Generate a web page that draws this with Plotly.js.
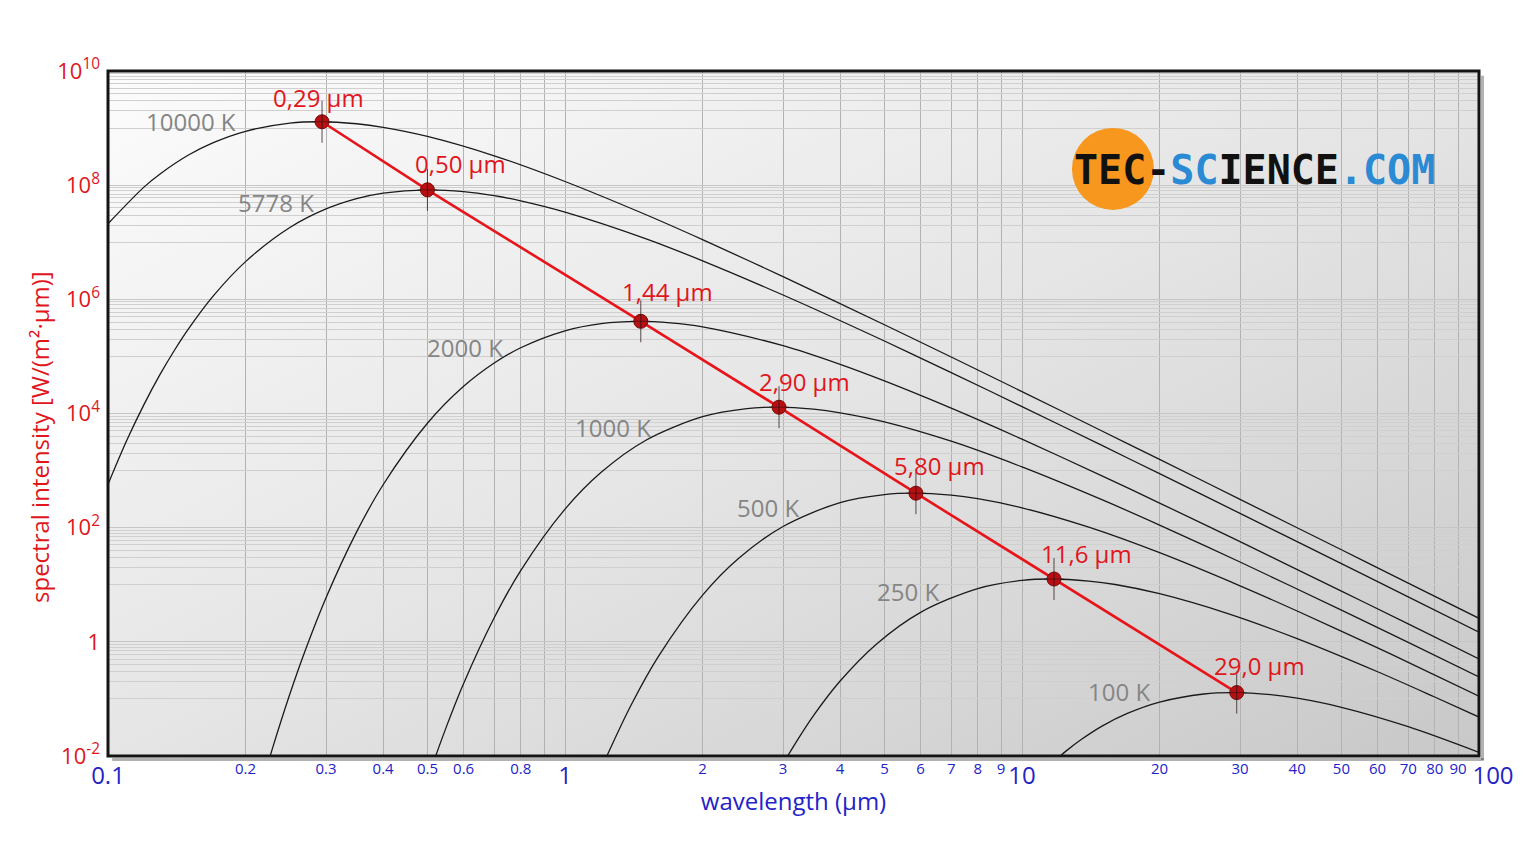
<!DOCTYPE html>
<html>
<head>
<meta charset="utf-8">
<script src="https://cdn.plot.ly/plotly-3.0.1.min.js"></script>
<style>html,body{margin:0;padding:0;background:#fff;}#chart{width:1536px;height:864px;}</style>
</head>
<body>
<div id="chart"></div>
<script>
// ---------------- data ----------------
const temps = ['10000 K', '5778 K', '2000 K', '1000 K', '500 K', '250 K', '100 K'];

const wl_10000 = [0.1,0.12,0.13,0.15,0.17,0.2,0.25,0.29,0.35,0.4,0.5,0.7,1,1.5,2,3,5,7,10,15,20,30,50,70,100];
const I_10000  = [2.11e7,9.33e7,1.57e8,3.37e8,5.56e8,8.79e8,1.22e9,1.29e9,1.19e9,1.03e9,7.14e8,3.27e8,1.16e8,3.06e7,1.11e7,2.50e6,3.59e5,9.76e4,2.42e4,4.89e3,1.57e3,313,41.0,10.7,2.58];

const wl_5778 = [0.1,0.11,0.12,0.13,0.14,0.15,0.17,0.2,0.25,0.3,0.35,0.4,0.5,0.6,0.7,0.8,1,1.5,2,3,5,7,10,15,20,30,50,70,100];
const I_5778  = [573,3.42e3,1.46e4,4.84e4,1.31e5,3.04e5,1.15e6,4.58e6,1.81e7,3.83e7,5.80e7,7.25e7,8.29e7,7.71e7,6.53e7,5.32e7,3.38e7,1.16e7,4.73e6,1.19e6,1.86e5,5.21e4,1.32e4,2.73e3,882,178,23.4,6.15,1.48];

const wl_2000 = [0.225,0.23,0.25,0.27,0.3,0.35,0.4,0.5,0.6,0.7,0.8,1,1.2,1.44,1.7,2,3,4,5,7,10,15,20,30,50,70,100];
const I_2000  = [8.43e-3,1.52e-2,0.122,0.700,5.94,84.4,565,6.75e3,2.99e4,7.66e4,1.42e5,2.81e5,3.76e5,4.12e5,3.88e5,3.30e5,1.54e5,7.25e4,3.72e4,1.24e4,3.55e3,801,270,56.8,7.74,2.06,0.502];

const wl_1000 = [0.5,0.52,0.55,0.6,0.7,0.8,1,1.2,1.5,2,2.5,2.9,3.5,4,5,7,10,15,20,30,50,70,100];
const I_1000  = [3.81e-3,9.47e-3,3.24e-2,0.186,2.64,17.7,211,933,3.37e3,8.79e3,1.22e4,1.29e4,1.19e4,1.03e4,7.14e3,3.27e3,1.16e3,306,111,25.0,3.59,0.976,0.242];

const wl_500 = [1.22,1.24,1.4,1.6,2,2.4,3,4,5,5.8,7,8,10,14,20,30,40,60,70,100];
const I_500  = [7.91e-3,1.07e-2,8.24e-2,0.552,6.60,29.2,105,275,380,402,371,322,223,102,36.4,9.57,3.47,0.782,0.438,0.112];

const wl_250 = [3.04,3.08,3.2,3.5,4,4.8,6,8,10,11.6,14,16,20,28,40,60,80,100];
const I_250  = [8.65e-3,1.04e-2,1.72e-2,5.15e-2,0.206,0.911,3.29,8.58,11.9,12.6,11.6,10.1,6.97,3.19,1.14,0.299,0.108,0.0481];

const wl_100 = [12,12.5,13.5,15,17,20,25,29,35,40,50,70,100];
const I_100  = [9.33e-3,1.23e-2,1.96e-2,0.0337,0.0556,0.0879,0.122,0.129,0.119,0.103,0.0714,0.0327,0.0116];

const peak_wl = [0.294, 0.50, 1.465, 2.94, 5.86, 11.75, 29.5];
const peak_I  = [1.29e9, 8.29e7, 4.12e5, 1.29e4, 402, 12.6, 0.129];
const peak_labels = ['0,29 µm', '0,50 µm', '1,44 µm', '2,90 µm', '5,80 µm', '11,6 µm', '29,0 µm'];

// axis ticks / grid
const x_grid_vals = [0.1,0.2,0.3,0.4,0.5,0.6,0.7,0.8,0.9,1,2,3,4,5,6,7,8,9,10,20,30,40,50,60,70,80,90,100];
const x_minor_vals = [0.2,0.3,0.4,0.5,0.6,0.8,2,3,4,5,6,7,8,9,20,30,40,50,60,70,80,90];
const x_minor_text = ['0.2','0.3','0.4','0.5','0.6','0.8','2','3','4','5','6','7','8','9','20','30','40','50','60','70','80','90'];
const x_major_vals = [0.1, 1, 10];
const x_major_text = ['0.1', '1', '10'];
const x_end_vals = [100];
const x_end_text = ['100'];
const y_major_vals = [1e-2, 1, 1e2, 1e4, 1e6, 1e8, 1e10];
const y_major_text = ['10<sup>-2</sup>', '1', '10<sup>2</sup>', '10<sup>4</sup>', '10<sup>6</sup>', '10<sup>8</sup>', '10<sup>10</sup>'];
const y_minor_vals = [1e-1,2e-1,3e-1,4e-1,5e-1,6e-1,7e-1,8e-1,9e-1,
                      1e1,2e1,3e1,4e1,5e1,6e1,7e1,8e1,9e1,
                      1e3,2e3,3e3,4e3,5e3,6e3,7e3,8e3,9e3,
                      1e5,2e5,3e5,4e5,5e5,6e5,7e5,8e5,9e5,
                      1e7,2e7,3e7,4e7,5e7,6e7,7e7,8e7,9e7,
                      1e9,2e9,3e9,4e9,5e9,6e9,7e9,8e9,9e9];

// ---------------- styling ----------------
const RED = '#e0161c';
const BLUE = '#2323c8';
const GRAY_TXT = '#858585';
const FONT = '"Open Sans", "Noto Sans", sans-serif';

const curves = [
  [wl_10000, I_10000], [wl_5778, I_5778], [wl_2000, I_2000], [wl_1000, I_1000],
  [wl_500, I_500], [wl_250, I_250], [wl_100, I_100]
];

const traces = curves.map(c => ({
  x: c[0], y: c[1], type: 'scatter', mode: 'lines',
  line: {color: '#1a1a1a', width: 1.3, shape: 'spline', smoothing: 0.9},
  hoverinfo: 'skip', cliponaxis: true
}));

// Wien line
traces.push({x: peak_wl, y: peak_I, type: 'scatter', mode: 'lines',
  line: {color: '#e8141a', width: 2.6}, hoverinfo: 'skip'});
// marker dots
traces.push({x: peak_wl, y: peak_I, type: 'scatter', mode: 'markers',
  marker: {symbol: 'circle', size: 14, color: '#b80f12', line: {color: '#7a0a0a', width: 1}}, hoverinfo: 'skip'});
// crosshair
traces.push({x: peak_wl, y: peak_I, type: 'scatter', mode: 'markers',
  marker: {symbol: 'line-ns', size: 30, line: {color: 'rgba(40,20,20,0.75)', width: 1}}, hoverinfo: 'skip'});
traces.push({x: peak_wl, y: peak_I, type: 'scatter', mode: 'markers',
  marker: {symbol: 'line-ew', size: 14, line: {color: 'rgba(40,20,20,0.6)', width: 1}}, hoverinfo: 'skip'});
// invisible anchors so the overlay axes exist
['x2', 'x3', 'x4'].forEach(ax => traces.push({x: [1], y: [1], xaxis: ax, yaxis: 'y', mode: 'markers', marker: {opacity: 0}, hoverinfo: 'skip'}));
traces.push({x: [1], y: [1], xaxis: 'x', yaxis: 'y2', mode: 'markers', marker: {opacity: 0}, hoverinfo: 'skip'});

// label offsets in pixels relative to each marker
const tempShift = [[-131, 0], [-151, -13], [-176, -26], [-166, -20], [-148, -14], [-146, -12], [-118, 1]];
const peakShift = [[-4, 24], [33, 26], [27, 30], [25, 26], [24, 28], [32, 26], [23, 27]];

const annotations = [];
peak_wl.forEach((w, i) => {
  annotations.push({
    x: Math.log10(w), y: Math.log10(peak_I[i]), xref: 'x', yref: 'y',
    text: peak_labels[i], showarrow: false, xanchor: 'center', yanchor: 'middle',
    xshift: peakShift[i][0], yshift: peakShift[i][1],
    font: {family: FONT, size: 24, color: RED}
  });
  annotations.push({
    x: Math.log10(w), y: Math.log10(peak_I[i]), xref: 'x', yref: 'y',
    text: temps[i], showarrow: false, xanchor: 'center', yanchor: 'middle',
    xshift: tempShift[i][0], yshift: tempShift[i][1],
    font: {family: FONT, size: 24, color: GRAY_TXT}
  });
});
// y axis title (centred where the reference draws it)
annotations.push({
  xref: 'paper', yref: 'paper', x: -0.0496, y: 0.4657, xanchor: 'center', yanchor: 'middle',
  showarrow: false, textangle: -90,
  text: 'spectral intensity [W/(m²·µm)]',
  font: {family: FONT, size: 24, color: RED}
});
// logo text
annotations.push({
  xref: 'paper', yref: 'paper', x: 0.8359, y: 0.8555, xanchor: 'center', yanchor: 'middle', showarrow: false,
  text: '<b><span style="color:#111111">TEC-</span><span style="color:#2a8ad4">SC</span><span style="color:#111111">IENCE</span><span style="color:#2a8ad4">.COM</span></b>',
  font: {family: '"DejaVu Sans Mono", monospace', size: 40, color: '#111111'}
});

const bgSvg = '<svg xmlns="http://www.w3.org/2000/svg" width="1371" height="685" viewBox="0 0 1371 685" preserveAspectRatio="none">' +
  '<defs><linearGradient id="g" x1="0" y1="0" x2="1" y2="1">' +
  '<stop offset="0" stop-color="#fcfcfc"/><stop offset="0.5" stop-color="#e5e5e5"/><stop offset="1" stop-color="#c8c8c8"/>' +
  '</linearGradient></defs><rect width="1371" height="685" fill="url(#g)"/></svg>';

const overlayX = {type: 'log', range: [-1, 2], overlaying: 'x', anchor: 'y', side: 'bottom',
  tickmode: 'array', showgrid: false, zeroline: false, showline: false, ticks: ''};

const layout = {
  width: 1536, height: 864, autosize: false,
  margin: {l: 108, r: 57, t: 71, b: 108},
  paper_bgcolor: '#ffffff', plot_bgcolor: 'rgba(0,0,0,0)',
  showlegend: false,
  font: {family: FONT},
  xaxis: {
    type: 'log', range: [-1, 2], tickmode: 'array', tickvals: x_grid_vals, showticklabels: false,
    showgrid: true, gridcolor: '#b2b2b2', gridwidth: 1,
    zeroline: false, showline: false, ticks: '', automargin: false
  },
  xaxis2: Object.assign({}, overlayX, {
    tickvals: x_minor_vals, ticktext: x_minor_text,
    tickfont: {family: FONT, size: 15, color: BLUE}, ticklabelstandoff: 2
  }),
  xaxis3: Object.assign({}, overlayX, {
    tickvals: x_major_vals, ticktext: x_major_text,
    tickfont: {family: FONT, size: 24, color: BLUE}, ticklabelstandoff: 3, automargin: true,
    title: {text: 'wavelength (µm)', font: {family: FONT, size: 24, color: BLUE}, standoff: 3}
  }),
  xaxis4: Object.assign({}, overlayX, {
    tickvals: x_end_vals, ticktext: x_end_text, ticklabelshift: 14,
    tickfont: {family: FONT, size: 24, color: BLUE}, ticklabelstandoff: 3
  }),
  yaxis: {
    type: 'log', range: [-2, 10], tickmode: 'array', tickvals: y_major_vals, ticktext: y_major_text,
    tickfont: {family: FONT, size: 22, color: RED}, showgrid: true, gridcolor: '#c6c6c6', gridwidth: 1,
    zeroline: false, showline: false, ticks: '', ticklabelstandoff: 7, automargin: false
  },
  yaxis2: {
    type: 'log', range: [-2, 10], overlaying: 'y', anchor: 'x', side: 'left',
    tickmode: 'array', tickvals: y_minor_vals, showticklabels: false,
    showgrid: true, gridcolor: '#cfcfcf', gridwidth: 1, zeroline: false, showline: false, ticks: ''
  },
  images: [{
    source: 'data:image/svg+xml;charset=utf-8,' + encodeURIComponent(bgSvg),
    xref: 'paper', yref: 'paper', x: 0, y: 1, sizex: 1, sizey: 1,
    xanchor: 'left', yanchor: 'top', sizing: 'stretch', layer: 'below'
  }],
  shapes: [
    // logo circle
    {type: 'circle', xref: 'paper', yref: 'paper', xsizemode: 'pixel', ysizemode: 'pixel',
     xanchor: 0.733, yanchor: 0.857, x0: -41, x1: 41, y0: -41, y1: 41,
     fillcolor: '#f7971e', line: {width: 0}, layer: 'above'},
    // frame shadow
    {type: 'line', xref: 'paper', yref: 'paper', xsizemode: 'pixel', xanchor: 1, x0: 3.5, x1: 3.5, y0: -0.006, y1: 0.993,
     line: {color: 'rgba(0,0,0,0.3)', width: 3}, layer: 'above'},
    {type: 'line', xref: 'paper', yref: 'paper', ysizemode: 'pixel', yanchor: 0, y0: -3.5, y1: -3.5, x0: 0.003, x1: 1.0035,
     line: {color: 'rgba(0,0,0,0.3)', width: 3}, layer: 'above'},
    // frame
    {type: 'rect', xref: 'paper', yref: 'paper', x0: 0, x1: 1, y0: 0, y1: 1,
     line: {color: '#141414', width: 3}, layer: 'above'}
  ],
  annotations: annotations
};

Plotly.newPlot('chart', traces, layout, {staticPlot: true, displayModeBar: false});
</script>
</body>
</html>
